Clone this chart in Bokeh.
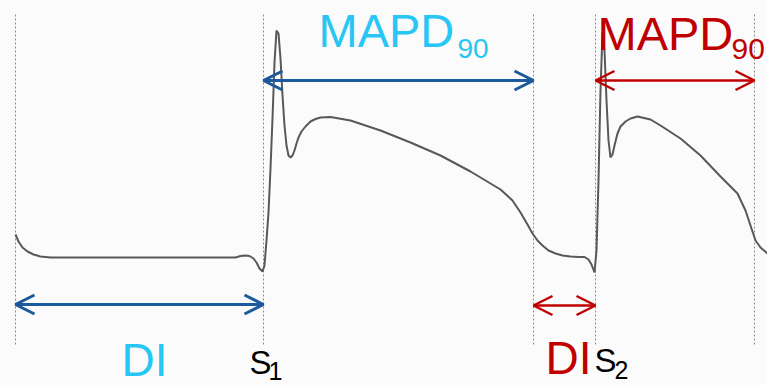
from bokeh.plotting import figure
from bokeh.models import Range1d, Arrow, OpenHead, Label
from bokeh.embed import file_html
from bokeh.resources import INLINE

# ---- data (time units ~ arbitrary, signal inverted screen-like units) ----
t = [15, 18, 22, 27, 33, 40, 50, 60, 100, 150, 200, 235, 240, 245, 249, 253, 256, 259, 262,
     264, 266, 268, 270, 272, 274, 276, 278, 280, 282, 284, 286, 288, 290, 292, 294, 296, 298,
     301, 305, 310, 315, 320, 330, 350, 380, 410, 440, 470, 500, 512, 520, 527, 532, 537, 542,
     548, 555, 562, 570, 578, 584, 588, 591, 594, 596, 598, 600, 602, 604, 606, 608, 610, 612,
     614, 617, 620, 625, 630, 637, 650, 660, 680, 700, 720, 737, 745, 750, 755, 760, 767]
v = [234, 241, 247, 251, 254, 256, 257, 257, 257, 257, 257, 257, 255.5, 255, 255.5, 258, 262, 268, 271,
     265, 240, 212, 168, 118, 62, 30, 33, 58, 95, 125, 145, 155, 157, 155, 150, 143, 137,
     131, 126, 121, 118.5, 117, 116.5, 120, 130, 142, 155, 171, 189, 200, 212, 224, 233, 240, 245,
     250, 253, 255, 256, 256.5, 256.5, 259, 264, 272, 250, 180, 90, 32, 50, 100, 140, 157, 154,
     145, 133, 126, 121, 118, 116, 119, 125, 138, 155, 176, 193, 210, 225, 240, 247, 253]

boundaries = [15, 263, 533, 595, 754]          # DI start, S1, end of APD1, S2, end of APD2
arrow_start = [263, 15, 595, 533]
arrow_end = [533, 263, 754, 595]
arrow_level = [80, 304, 80, 305]
arrow_color = ["#1b5a9c", "#1b5a9c", "#c00000", "#c00000"]

label_text = ["MAPD", "90", "MAPD", "90", "DI", "DI", "S", "1", "S", "2"]
label_x = [318, 457, 597, 731, 121, 545, 249, 268, 594, 614]
label_y = [47, 58, 50, 60, 377, 375, 374, 380, 372, 379]
label_size = [47, 28, 47, 30, 46, 46, 33, 25, 33, 25]
label_color = ["#27c6f4", "#27c6f4", "#c00000", "#c00000", "#27c6f4", "#c00000",
               "#000000", "#000000", "#000000", "#000000"]

W, H = 767, 385
p = figure(width=W, height=H, output_backend="svg", toolbar_location=None,
           x_range=Range1d(0, W), y_range=Range1d(H, 0),
           min_border=0, min_border_left=0, min_border_right=0,
           min_border_top=0, min_border_bottom=0)
p.axis.visible = False
p.grid.visible = False
p.outline_line_color = None
p.background_fill_color = "#fbfbfb"
p.border_fill_color = "#fbfbfb"

# vertical dotted markers
for b in boundaries:
    p.line([b, b], [14, 346], line_color="#8a8a8a", line_width=1, line_dash="2 2")

# trace
p.line(t, v, line_color="#585858", line_width=2)

# arrows
for xs, xe, y, c in zip(arrow_start, arrow_end, arrow_level, arrow_color):
    lw = 3 if c == "#1b5a9c" else 2.5
    p.add_layout(Arrow(x_start=xs, y_start=y, x_end=xe, y_end=y,
                       line_color=c, line_width=lw,
                       start=OpenHead(size=19, line_color=c, line_width=lw),
                       end=OpenHead(size=19, line_color=c, line_width=lw)))

FONT = "Liberation Sans"
for txt, x, y, fs, col in zip(label_text, label_x, label_y, label_size, label_color):
    p.add_layout(Label(x=x, y=y - 0.37 * fs, text=txt, text_font=FONT,
                       text_font_size=f"{fs}px", text_color=col,
                       text_baseline="alphabetic", text_align="left"))

open("out.html", "w").write(file_html(p, INLINE))
